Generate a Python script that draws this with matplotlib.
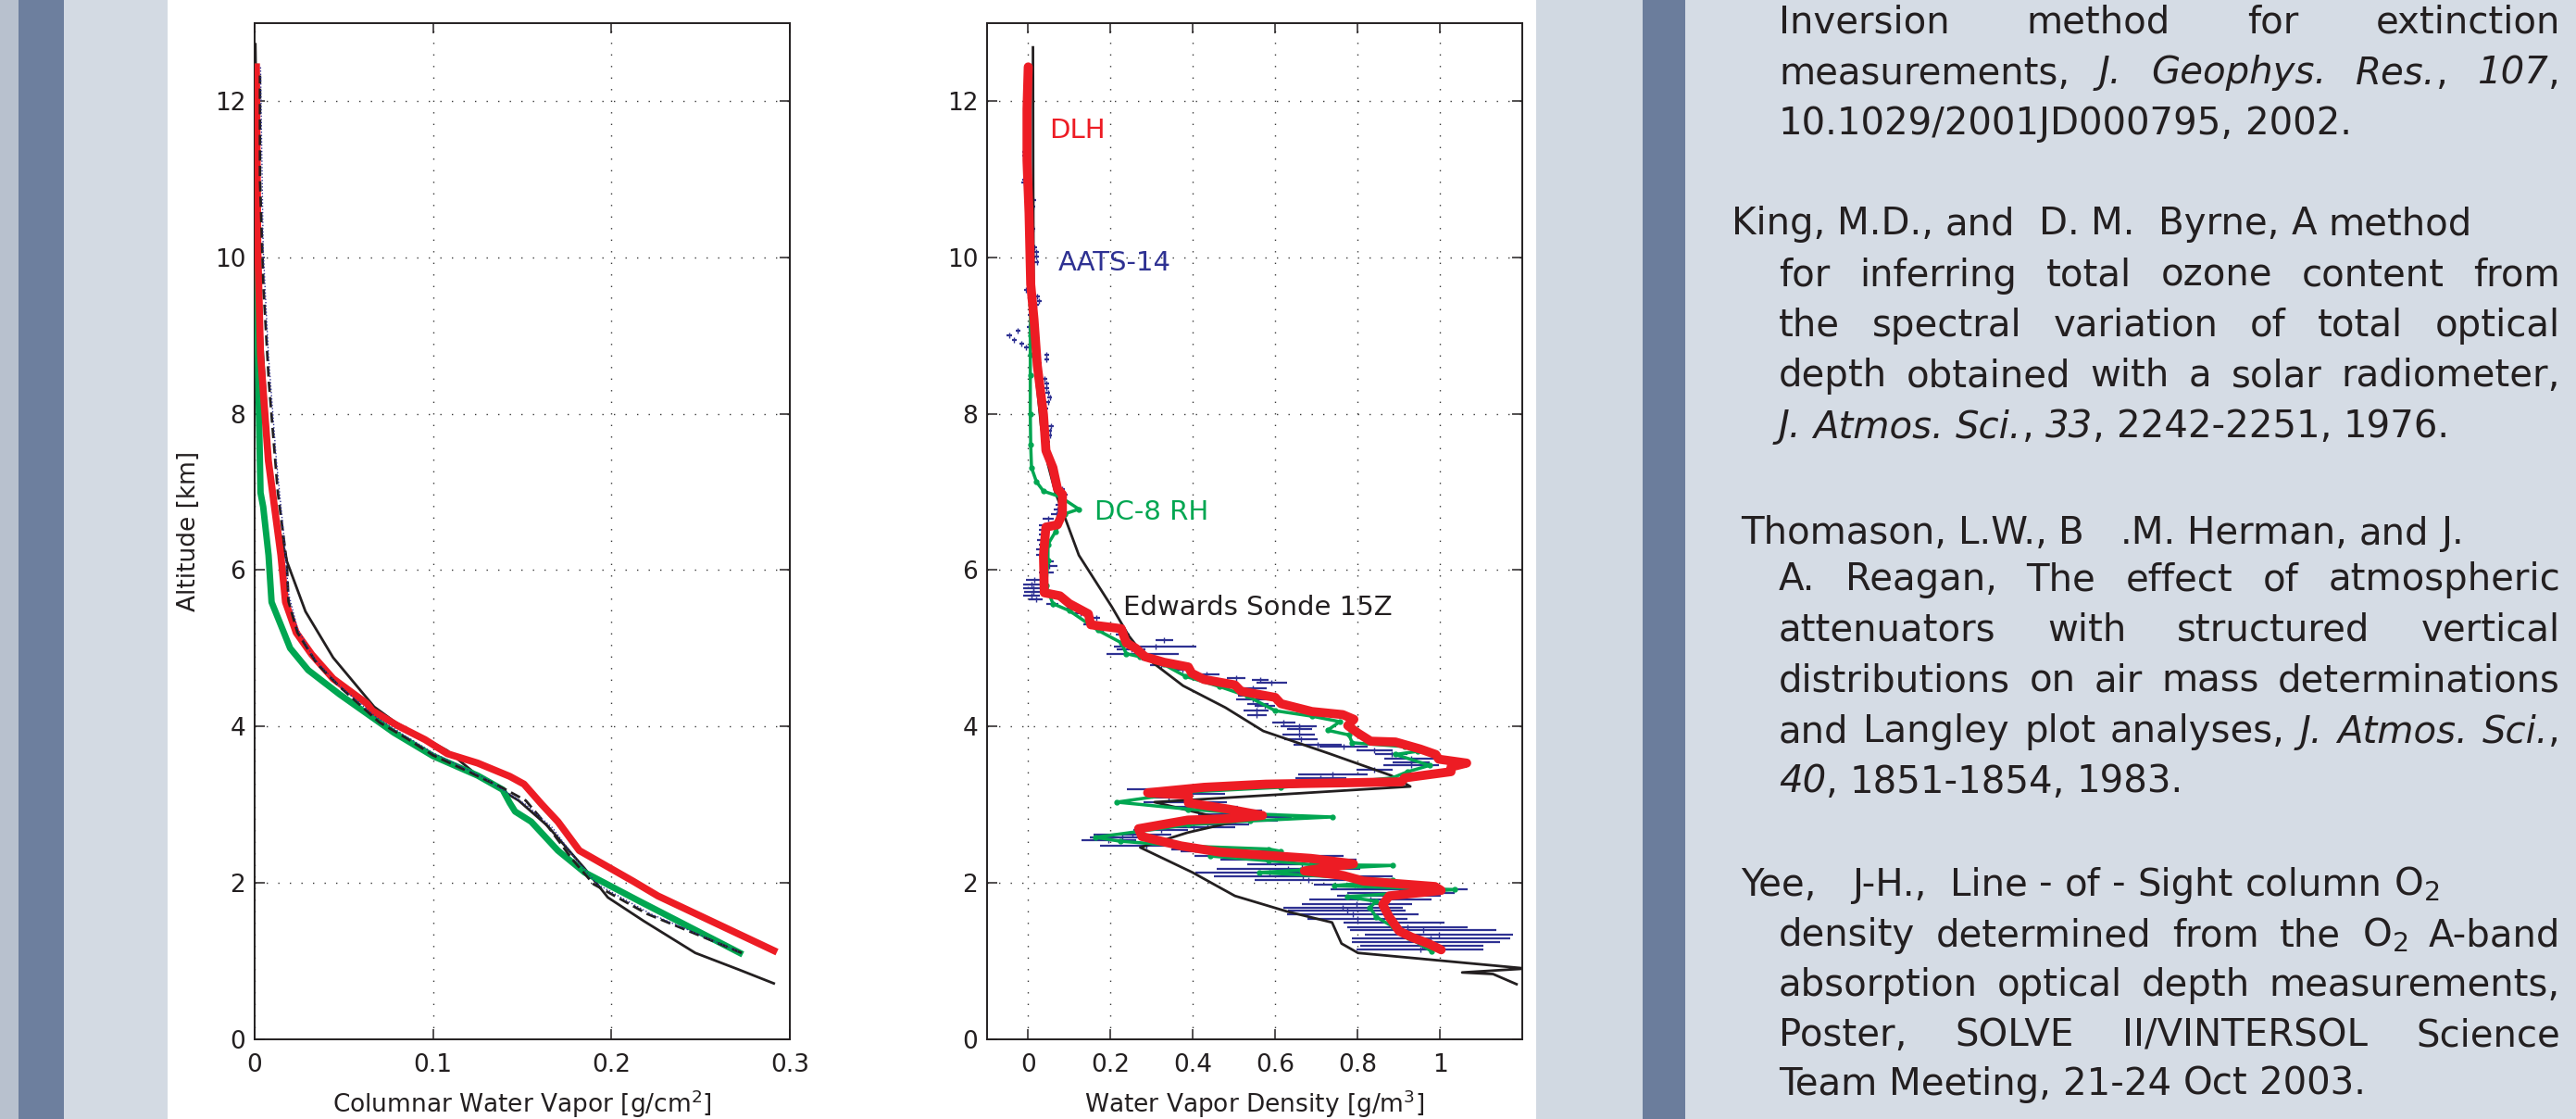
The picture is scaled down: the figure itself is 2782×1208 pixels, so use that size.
"""Poster panel: water vapour profiles (columnar and density) plus reference list."""

import matplotlib

matplotlib.use("Agg")
import matplotlib.pyplot as plt
from matplotlib.patches import Rectangle

# ---- left panel: columnar water vapour [g/cm^2] vs altitude [km] ----
cwv_sonde_x = [0.291, 0.271, 0.247, 0.218, 0.198, 0.185, 0.164, 0.148, 0.125, 0.108,
               0.079, 0.067, 0.044, 0.0285, 0.0181, 0.013, 0.008, 0.004, 0.0015, 0.0004]
cwv_sonde_alt = [0.71, 0.89, 1.10, 1.51, 1.81, 2.18, 2.73, 3.05, 3.37, 3.69,
                 4.05, 4.25, 4.88, 5.47, 6.11, 6.6, 7.5, 9.0, 11.0, 12.73]

cwv_dash_x = [0.273, 0.22, 0.19, 0.178, 0.165, 0.152, 0.14, 0.12, 0.10, 0.085, 0.07,
              0.048, 0.035, 0.024, 0.019, 0.018, 0.013, 0.008, 0.005, 0.003, 0.003]
cwv_dash_alt = [1.10, 1.6, 1.98, 2.3, 2.7, 3.05, 3.2, 3.42, 3.63, 3.85, 4.05,
                4.5, 4.8, 5.2, 5.6, 6.1, 7.0, 8.4, 9.6, 11.0, 12.33]

cwv_aats_x = [0.271, 0.222, 0.192, 0.18, 0.167, 0.152, 0.128, 0.10, 0.083, 0.068,
              0.046, 0.033, 0.024, 0.019, 0.0167, 0.0122, 0.0077, 0.0048, 0.0033]
cwv_aats_alt = [1.12, 1.6, 1.98, 2.3, 2.7, 3.0, 3.35, 3.66, 3.9, 4.12,
                4.55, 4.88, 5.25, 5.7, 6.36, 7.4, 8.76, 10.1, 12.44]

cwv_dlh_x = [0.291, 0.226, 0.212, 0.182, 0.170, 0.161, 0.151, 0.143, 0.125, 0.108,
             0.0955, 0.080, 0.066, 0.063, 0.044, 0.032, 0.0233, 0.0173, 0.0147,
             0.0077, 0.0033, 0.0018, 0.001]
cwv_dlh_alt = [1.13, 1.83, 2.02, 2.41, 2.78, 3.00, 3.26, 3.36, 3.53, 3.65,
               3.83, 4.01, 4.2, 4.29, 4.61, 4.92, 5.20, 5.59, 6.19,
               7.4, 8.76, 10.1, 12.44]

cwv_dc8_x = [0.272, 0.215, 0.185, 0.170, 0.155, 0.146, 0.143, 0.139, 0.125, 0.100,
             0.078, 0.065, 0.0476, 0.030, 0.0199, 0.0164, 0.0095, 0.0078, 0.0048,
             0.0033, 0.0024, 0.0012, 0.0003]
cwv_dc8_alt = [1.10, 1.77, 2.13, 2.41, 2.78, 2.91, 3.02, 3.19, 3.37, 3.62,
               3.92, 4.13, 4.41, 4.72, 5.0, 5.20, 5.59, 6.19, 6.81,
               6.99, 8.03, 9.66, 12.44]

# ---- right panel: water vapour density [g/m^3] vs altitude [km] ----
rho_sonde_x = [0.0115, 0.012, 0.013, 0.014, 0.031, 0.048, 0.066, 0.083, 0.123, 0.203,
               0.244, 0.284, 0.376, 0.479, 0.571, 0.732, 0.882, 0.928, 0.307, 0.33,
               0.502, 0.387, 0.272, 0.399, 0.502, 0.629, 0.738, 0.761, 0.801, 1.21,
               1.054, 1.129, 1.186]
rho_sonde_alt = [12.69, 11.0, 9.6, 8.76, 7.85, 7.35, 6.99, 6.76, 6.19, 5.53,
                 5.16, 4.89, 4.52, 4.24, 3.94, 3.65, 3.37, 3.23, 3.03, 3.00,
                 2.78, 2.64, 2.45, 2.13, 1.83, 1.63, 1.49, 1.22, 1.10, 0.90,
                 0.85, 0.83, 0.70]

rho_dlh_x = [0.000, -0.003, -0.003, 0.002, 0.006, 0.014, 0.022, 0.037, 0.043, 0.060,
             0.071, 0.083, 0.083, 0.071, 0.043, 0.037, 0.039, 0.077, 0.100, 0.146,
             0.152, 0.226, 0.238, 0.261, 0.284, 0.330, 0.389, 0.397, 0.427, 0.502,
             0.517, 0.600, 0.614, 0.689, 0.764, 0.791, 0.776, 0.802, 0.832, 0.892,
             0.952, 0.990, 0.997, 1.065, 1.027, 1.027, 0.914, 0.907, 0.577, 0.427,
             0.290, 0.389, 0.389, 0.487, 0.569, 0.494, 0.387, 0.268, 0.276, 0.371,
             0.466, 0.687, 0.790, 0.671, 0.766, 0.814, 0.988, 1.003, 0.877, 0.861,
             0.877, 0.901, 0.932, 0.972, 1.003]
rho_dlh_alt = [12.44, 11.9, 11.24, 10.57, 9.66, 9.21, 8.62, 7.99, 7.53, 7.31,
               7.04, 6.97, 6.72, 6.58, 6.55, 6.19, 5.71, 5.67, 5.57, 5.44,
               5.30, 5.25, 5.07, 5.00, 4.89, 4.82, 4.76, 4.68, 4.60, 4.53,
               4.45, 4.37, 4.29, 4.19, 4.15, 4.09, 4.01, 3.91, 3.81, 3.80,
               3.71, 3.64, 3.58, 3.53, 3.48, 3.42, 3.34, 3.29, 3.26, 3.22,
               3.15, 3.12, 3.02, 2.94, 2.86, 2.82, 2.80, 2.69, 2.59, 2.47,
               2.39, 2.31, 2.24, 2.15, 2.09, 2.02, 1.95, 1.90, 1.83, 1.72,
               1.56, 1.38, 1.30, 1.22, 1.14]

rho_dc8_x = [0.006, 0.006, 0.005, 0.005, 0.005, 0.005, 0.006, 0.008, 0.020, 0.037,
             0.077, 0.123, 0.089, 0.066, 0.048, 0.048, 0.043, 0.060, 0.100, 0.169,
             0.226, 0.238, 0.272, 0.330, 0.382, 0.464, 0.531, 0.600, 0.689, 0.757,
             0.727, 0.779, 0.787, 0.915, 0.945, 0.892, 0.975, 0.922, 0.884, 0.764,
             0.614, 0.389, 0.215, 0.389, 0.539, 0.738, 0.539, 0.389, 0.163, 0.223,
             0.371, 0.584, 0.614, 0.442, 0.584, 0.687, 0.885, 0.663, 0.561, 0.885,
             0.743, 1.035, 0.774, 0.845, 0.830, 0.845, 0.885, 0.924, 0.980]
rho_dc8_alt = [9.75, 9.4, 9.0, 8.76, 8.5, 8.0, 7.6, 7.31, 7.13, 7.01,
               6.94, 6.78, 6.72, 6.49, 6.33, 6.12, 5.80, 5.57, 5.48, 5.23,
               5.07, 4.93, 4.89, 4.79, 4.64, 4.51, 4.39, 4.20, 4.13, 4.06,
               3.95, 3.89, 3.79, 3.74, 3.68, 3.64, 3.50, 3.42, 3.34, 3.28,
               3.22, 3.16, 3.03, 2.94, 2.88, 2.84, 2.79, 2.74, 2.58, 2.53,
               2.47, 2.43, 2.40, 2.34, 2.28, 2.23, 2.22, 2.16, 2.13, 2.03,
               1.96, 1.91, 1.82, 1.76, 1.68, 1.56, 1.44, 1.30, 1.12]

# AATS-14 retrievals: altitude and the low/high end of each uncertainty bar
aats_alt = [11.35, 11.31, 11.00, 10.96, 10.91, 10.73, 10.65, 10.49, 10.37, 10.13,
            10.07, 10.01, 9.94, 9.82, 9.74, 9.58, 9.50, 9.44, 9.40, 9.27,
            9.11, 9.06, 9.01, 8.95, 8.90, 8.85, 8.75, 8.70, 8.65, 8.53,
            8.45, 8.39, 8.33, 8.27, 8.21, 8.15, 8.07, 7.84, 7.78, 7.72,
            7.64, 7.52, 7.36, 7.28, 7.20, 7.12, 7.04, 6.96, 6.94, 6.84,
            6.78, 6.72, 6.66, 6.58, 6.52, 6.46, 6.38, 6.32, 6.26, 6.20,
            6.11, 6.05, 5.97, 5.87, 5.82, 5.77, 5.72, 5.67, 5.63, 5.57,
            5.51, 5.45, 5.39, 5.31, 5.25, 5.17, 5.10, 5.02, 4.98, 4.93,
            4.86, 4.78, 4.73, 4.67, 4.62, 4.59, 4.56, 4.49, 4.39, 4.34,
            4.29, 4.26, 4.20, 4.14, 4.05, 4.00, 3.96, 3.90, 3.83, 3.77,
            3.74, 3.69, 3.64, 3.59, 3.54, 3.50, 3.44, 3.38, 3.34, 3.28,
            3.23, 3.19, 3.14, 3.09, 3.03, 2.97, 2.92, 2.88, 2.84, 2.79,
            2.74, 2.71, 2.67, 2.62, 2.58, 2.54, 2.47, 2.43, 2.40, 2.34,
            2.29, 2.24, 2.18, 2.13, 2.08, 2.03, 1.97, 1.92, 1.87, 1.83,
            1.78, 1.73, 1.68, 1.64, 1.59, 1.54, 1.49, 1.43, 1.39, 1.33,
            1.29, 1.24, 1.19, 1.14]
aats_lo = [-0.015, -0.014, -0.014, -0.017, -0.011, 0.007, 0.006, 0.002, 0.006, 0.009,
           0.014, 0.014, 0.015, -0.004, -0.002, -0.011, 0.016, 0.021, 0.014, -0.002,
           -0.004, -0.031, -0.052, -0.040, -0.022, -0.011, 0.039, 0.039, 0.021, 0.021,
           0.034, 0.039, 0.038, 0.042, 0.046, 0.042, 0.036, 0.049, 0.046, 0.046,
           0.042, 0.038, 0.049, 0.053, 0.057, 0.064, 0.075, 0.082, 0.073, 0.066,
           0.062, 0.055, 0.036, 0.025, 0.025, 0.025, 0.021, 0.025, 0.020, 0.020,
           0.036, 0.032, 0.025, -0.005, -0.013, -0.013, -0.009, -0.013, 0.002, 0.044,
           0.092, 0.104, 0.156, 0.134, 0.171, 0.213, 0.310, 0.209, 0.216, 0.190,
           0.276, 0.295, 0.351, 0.404, 0.483, 0.543, 0.554, 0.513, 0.509, 0.505,
           0.531, 0.550, 0.524, 0.531, 0.592, 0.614, 0.629, 0.618, 0.622, 0.644,
           0.708, 0.798, 0.843, 0.866, 0.884, 0.862, 0.798, 0.655, 0.648, 0.610,
           0.412, 0.240, 0.307, 0.300, 0.280, 0.330, 0.404, 0.412, 0.389, 0.397,
           0.332, 0.300, 0.256, 0.158, 0.150, 0.130, 0.174, 0.347, 0.371, 0.403,
           0.466, 0.533, 0.458, 0.407, 0.450, 0.549, 0.695, 0.735, 0.774, 0.750,
           0.683, 0.664, 0.620, 0.632, 0.628, 0.679, 0.766, 0.774, 0.782, 0.817,
           0.786, 0.786, 0.806, 0.798]
aats_hi = [-0.003, -0.002, -0.002, -0.005, 0.001, 0.019, 0.018, 0.014, 0.018, 0.021,
           0.026, 0.026, 0.027, 0.008, 0.010, 0.001, 0.028, 0.033, 0.026, 0.010,
           0.008, -0.019, -0.040, -0.028, -0.010, 0.001, 0.051, 0.051, 0.033, 0.033,
           0.046, 0.051, 0.050, 0.054, 0.058, 0.054, 0.048, 0.061, 0.058, 0.058,
           0.054, 0.050, 0.061, 0.065, 0.069, 0.076, 0.089, 0.096, 0.092, 0.089,
           0.081, 0.081, 0.062, 0.055, 0.051, 0.047, 0.043, 0.043, 0.043, 0.043,
           0.062, 0.070, 0.062, 0.036, 0.029, 0.036, 0.036, 0.029, 0.036, 0.074,
           0.119, 0.149, 0.175, 0.164, 0.190, 0.246, 0.351, 0.408, 0.284, 0.366,
           0.329, 0.351, 0.400, 0.464, 0.528, 0.584, 0.629, 0.580, 0.554, 0.584,
           0.584, 0.599, 0.584, 0.580, 0.648, 0.701, 0.689, 0.697, 0.704, 0.761,
           0.825, 0.884, 0.922, 0.993, 0.975, 0.997, 0.884, 0.824, 0.772, 0.900,
           0.577, 0.520, 0.479, 0.380, 0.483, 0.509, 0.569, 0.603, 0.641, 0.607,
           0.537, 0.502, 0.389, 0.347, 0.308, 0.261, 0.400, 0.466, 0.589, 0.766,
           0.798, 0.798, 0.806, 0.766, 0.885, 0.814, 0.893, 1.067, 1.035, 1.003,
           0.980, 0.932, 0.909, 0.917, 0.948, 0.920, 1.011, 1.067, 1.138, 1.177,
           1.170, 1.146, 1.106, 1.106]

alt_ticks = [0, 2, 4, 6, 8, 10, 12]
cwv_ticks = [0, 0.1, 0.2, 0.3]
cwv_tick_labels = ["0", "0.1", "0.2", "0.3"]
rho_ticks = [0, 0.2, 0.4, 0.6, 0.8, 1.0]
rho_tick_labels = ["0", "0.2", "0.4", "0.6", "0.8", "1"]

# reference list; *...* marks italic pieces
ref_text = [
    "Inversion method for extinction",
    "measurements, *J.* *Geophys.* *Res.*, *107*,",
    "10.1029/2001JD000795, 2002.",
    "King, M.D., and  D. M.  Byrne, A method",
    "for inferring total ozone content from",
    "the spectral variation of total optical",
    "depth obtained with a solar radiometer,",
    "*J.* *Atmos.* *Sci.*, *33*, 2242-2251, 1976.",
    "Thomason, L.W., B   .M. Herman, and J.",
    "A. Reagan, The effect of atmospheric",
    "attenuators with structured vertical",
    "distributions on air mass determinations",
    "and Langley plot analyses, *J.* *Atmos.* *Sci.*,",
    "*40*, 1851-1854, 1983.",
    "Yee,   J-H.,  Line - of - Sight column O$_2$",
    "density determined from the O$_2$ A-band",
    "absorption optical depth measurements,",
    "Poster,   SOLVE   II/VINTERSOL   Science",
    "Team Meeting, 21-24 Oct 2003.",
]
ref_baseline = [35.5, 90.5, 145.2, 253, 308.7, 362.6, 417, 472.3, 587.5, 637,
                691.5, 746.5, 801.5, 856, 966.5, 1021, 1075.5, 1129.5, 1182]
ref_left = [1921, 1921, 1921, 1870, 1921, 1921, 1921, 1921, 1880, 1921,
            1921, 1921, 1921, 1921, 1880, 1921, 1921, 1921, 1921]
ref_justify = [True, True, False, False, True, True, True, False, False, True,
               True, True, True, False, False, True, True, True, False]

W, H = 2782, 1208
RED = "#ed1c24"
GREEN = "#00a651"
NAVY = "#2e3192"
INK = "#231f20"

fig = plt.figure(figsize=(W / 100, H / 100), dpi=100)
fig.patch.set_facecolor("white")


def band(x0, x1, color):
    fig.add_artist(Rectangle((x0 / W, 0), (x1 - x0) / W, 1, transform=fig.transFigure,
                             facecolor=color, edgecolor="none", zorder=0))


band(0, 20, "#b8c1ce")
band(20, 69, "#6d7f9e")
band(69, 181, "#d3dae3")
band(1659, 1774, "#d1d9e2")
band(1774, 1820, "#6b7d9c")
band(1820, W, "#d5dce5")


def setup(ax, xlim, ticks, labels):
    ax.set_xlim(*xlim)
    ax.set_ylim(0, 13)
    ax.set_xticks(ticks)
    ax.set_xticklabels(labels)
    ax.set_yticks(alt_ticks)
    ax.set_yticklabels([str(t) for t in alt_ticks])
    ax.tick_params(direction="in", top=True, right=True, length=8, width=1.1,
                   labelsize=19, colors=INK)
    ax.tick_params(axis="x", pad=11)
    ax.tick_params(axis="y", pad=7)
    ax.grid(True, linestyle=(0, (1, 8)), color="#3a3a3a", linewidth=1.0)
    for spine in ax.spines.values():
        spine.set_linewidth(1.4)
        spine.set_color(INK)


bottom = 1 - 1121.5 / H
height = (1121.5 - 25) / H
ax1 = fig.add_axes([275 / W, bottom, 578 / W, height])
ax2 = fig.add_axes([1066 / W, bottom, 578 / W, height])

setup(ax1, (0, 0.3), cwv_ticks, cwv_tick_labels)
ax1.plot(cwv_sonde_x, cwv_sonde_alt, color=INK, lw=2.0, zorder=2)
ax1.plot(cwv_dc8_x, cwv_dc8_alt, color=GREEN, lw=5.0, zorder=3)
ax1.plot(cwv_dlh_x, cwv_dlh_alt, color=RED, lw=5.5, zorder=4)
ax1.plot(cwv_dash_x, cwv_dash_alt, color=INK, lw=2.0, ls=(0, (4, 2)), zorder=5)
ax1.plot(cwv_aats_x, cwv_aats_alt, color=NAVY, lw=1.0, ls=(0, (1, 1.5)), zorder=6)
ax1.set_xlabel("Columnar Water Vapor [g/cm$^2$]", fontsize=19, color=INK)
ax1.set_ylabel("Altitude [km]", fontsize=19, color=INK)
ax1.xaxis.set_label_coords(0.5, -0.048)
ax1.yaxis.set_label_coords(-0.10, 0.5)

setup(ax2, (-0.1, 1.2), rho_ticks, rho_tick_labels)
centre = [(lo + hi) / 2 for lo, hi in zip(aats_lo, aats_hi)]
half = [(hi - lo) / 2 for lo, hi in zip(aats_lo, aats_hi)]
ax2.errorbar(centre, aats_alt, xerr=half, fmt="|", color=NAVY, ms=4, mew=1.0,
             elinewidth=1.6, capsize=0, zorder=2)
ax2.plot(rho_sonde_x, rho_sonde_alt, color=INK, lw=2.0, zorder=3)
ax2.plot(rho_dc8_x, rho_dc8_alt, color=GREEN, lw=2.5, marker="o", ms=3.5, zorder=4)
ax2.plot(rho_dlh_x, rho_dlh_alt, color=RED, lw=7.0, solid_joinstyle="round",
         solid_capstyle="round", zorder=5)
ax2.set_xlabel("Water Vapor Density [g/m$^3$]", fontsize=19, color=INK)
ax2.xaxis.set_label_coords(0.5, -0.048)

ax2.text(0.051, 11.53, "DLH", color=RED, fontsize=21, va="baseline")
ax2.text(0.073, 9.84, "AATS-14", color=NAVY, fontsize=21, va="baseline")
ax2.text(0.160, 6.65, "DC-8 RH", color=GREEN, fontsize=21, va="baseline")
ax2.text(0.231, 5.43, "Edwards Sonde 15Z", color=INK, fontsize=21, va="baseline")

# reference list, laid out word by word so the body lines can be justified
REF_SIZE = 29
RIGHT_EDGE = 2765
renderer = fig.canvas.get_renderer()


def measured(s, italic):
    t = fig.text(0, 0, s, fontsize=REF_SIZE, color=INK, ha="left", va="baseline",
                 style="italic" if italic else "normal")
    return t, t.get_window_extent(renderer).width


probe_a, w_a = measured("x x", False)
probe_b, w_b = measured("xx", False)
space = w_a - w_b
probe_a.remove()
probe_b.remove()

for line, y, x0, just in zip(ref_text, ref_baseline, ref_left, ref_justify):
    words = []
    for token in line.split(" "):
        segs = [measured(part, k % 2 == 1)
                for k, part in enumerate(token.split("*")) if part]
        words.append(segs)
    if just:
        words = [w for w in words if w]
        total = sum(w for segs in words for _, w in segs)
        gap = (RIGHT_EDGE - x0 - total) / (len(words) - 1)
    else:
        gap = space
    x = x0
    for segs in words:
        for t, w in segs:
            t.set_position((x / W, 1 - y / H))
            x += w
        x += gap

fig.savefig("out.png", dpi=100)
